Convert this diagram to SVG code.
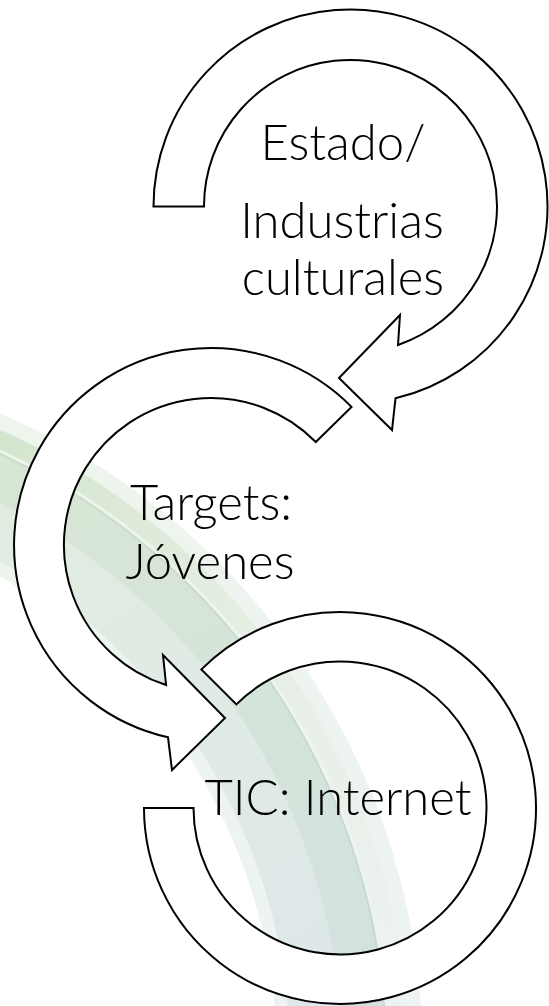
<svg xmlns="http://www.w3.org/2000/svg" width="549" height="1006" viewBox="0 0 549 1006">
<defs>
<style>
.arrow{fill:#ffffff;stroke:#000000;stroke-width:2;stroke-linejoin:miter}
.lbl{font-family:Lato,"Open Sans","Liberation Sans",sans-serif;font-weight:300;font-size:49px;fill:#000000;text-anchor:middle}
.band{fill:none}
</style>
<linearGradient id="gA" gradientUnits="userSpaceOnUse" x1="0" y1="420" x2="380" y2="1006">
<stop offset="0" stop-color="#eef5ec"/><stop offset="1" stop-color="#edf3f3"/>
</linearGradient>
<linearGradient id="gB" gradientUnits="userSpaceOnUse" x1="0" y1="420" x2="380" y2="1006">
<stop offset="0" stop-color="#e2ede0"/><stop offset="1" stop-color="#dee7ea"/>
</linearGradient>
<linearGradient id="gC" gradientUnits="userSpaceOnUse" x1="0" y1="420" x2="380" y2="1006">
<stop offset="0" stop-color="#d8e7d3"/><stop offset="1" stop-color="#d2e1de"/>
</linearGradient>
<linearGradient id="gD" gradientUnits="userSpaceOnUse" x1="0" y1="420" x2="380" y2="1006">
<stop offset="0" stop-color="#d3e5cc"/><stop offset="0.45" stop-color="#e6efe3"/><stop offset="1" stop-color="#ecf2f1"/>
</linearGradient>
<linearGradient id="gE" gradientUnits="userSpaceOnUse" x1="0" y1="420" x2="380" y2="1006">
<stop offset="0" stop-color="#cbdec7"/><stop offset="1" stop-color="#c6d8d5"/>
</linearGradient>
</defs>
<rect width="549" height="1006" fill="#ffffff"/>
<g id="background-band">
<circle class="band" cx="-278" cy="1057" r="628" stroke="url(#gA)" stroke-width="146"/>
<circle class="band" cx="-278" cy="1057" r="616" stroke="url(#gB)" stroke-width="96"/>
<circle class="band" cx="-278" cy="1057" r="642" stroke="url(#gC)" stroke-width="44"/>
<circle class="band" cx="-278" cy="1057" r="677" stroke="url(#gD)" stroke-width="18"/>
<circle class="band" cx="-278" cy="1057" r="664" stroke="url(#gE)" stroke-width="2"/>
</g>
<g id="connectors"></g>
<g id="node-tic">
<path class="arrow" d="M144,808 A196,196 0 1 0 201.4,669.4 L236.4,704.4 A146.5,146.5 0 1 1 193.5,808 Z"/>
<text class="lbl" x="338" y="815">TIC: Internet</text>
</g>
<g id="node-targets">
<path class="arrow" d="M351.5,406.9 A197,197 0 1 0 168,737.3 L172,770 L225,718 L163,655 L166.1,685 A147,147 0 1 1 315.8,442 Z"/>
<text class="lbl" x="211" y="520">Targets:</text>
<text class="lbl" x="210" y="579">Jóvenes</text>
</g>
<g id="node-estado">
<path class="arrow" d="M153.5,206.5 A197,197 0 1 1 395.5,398.3 L392,430 L339,378 L400,315 L398,345 A146.5,146.5 0 1 0 204,206.5 Z"/>
<text class="lbl" x="343" y="160">Estado/</text>
<text class="lbl" x="342" y="238">Industrias</text>
<text class="lbl" x="343" y="295">culturales</text>
</g>
</svg>
